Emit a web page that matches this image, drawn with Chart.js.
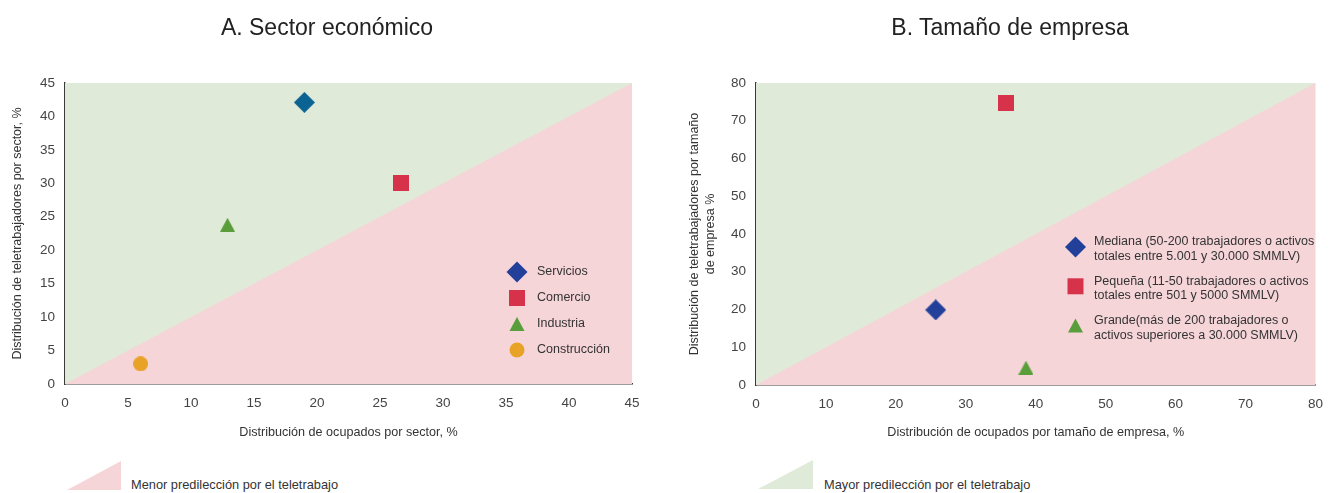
<!DOCTYPE html>
<html>
<head>
<meta charset="utf-8">
<script src="https://cdn.jsdelivr.net/npm/chart.js@4.4.0/dist/chart.umd.min.js"></script>
<style>
  body { margin: 0; background: #fff; font-family: "Liberation Sans", Arial, sans-serif; }
  #wrap { position: relative; width: 1334px; height: 493px; overflow: hidden; }
  .panel { position: absolute; top: 0; width: 667px; height: 455px; }
  .title { position: absolute; top: 16px; font-size: 23px; line-height: 23px; color: #222; white-space: nowrap; transform: translateX(-50%); }
  .tri { position: absolute; clip-path: polygon(0 100%, 100% 0, 100% 100%); }
  .keytext { position: absolute; font-size: 12.8px; line-height: 14px; color: #333; white-space: nowrap; }
</style>
</head>
<body>
<div id="wrap">
  <div class="panel" style="left:0"><canvas id="sectorChart" width="667" height="455"></canvas></div>
  <div class="panel" style="left:667px"><canvas id="sizeChart" width="667" height="455"></canvas></div>
  <div class="title" style="left:327px">A. Sector económico</div>
  <div class="title" style="left:1010px">B. Tamaño de empresa</div>
  <div class="tri" style="left:67px;top:461px;width:54px;height:29px;background:#f6d5d9"></div>
  <div class="keytext" style="left:131px;top:478px">Menor predilección por el teletrabajo</div>
  <div class="tri" style="left:758px;top:460px;width:55px;height:29px;background:#dfead8"></div>
  <div class="keytext" style="left:824px;top:478px">Mayor predilección por el teletrabajo</div>
</div>
<script>
// --- data ---
const sectorNames = ['Servicios', 'Comercio', 'Industria', 'Construcción'];
const sectorOcupados = [19.0, 26.7, 12.9, 6.0];
const sectorTeletrabajo = [42.1, 30.0, 23.8, 3.0];
const sectorMax = 45;
const sectorStep = 5;

const sizeNames = [
  ['Mediana (50-200 trabajadores o activos', 'totales entre 5.001 y 30.000 SMMLV)'],
  ['Pequeña (11-50 trabajadores o activos', 'totales entre 501 y 5000 SMMLV)'],
  ['Grande(más de 200 trabajadores o', 'activos superiores a 30.000 SMMLV)']
];
const sizeOcupados = [25.7, 35.8, 38.6];
const sizeTeletrabajo = [19.9, 74.7, 4.6];
const sizeMax = 80;
const sizeStep = 10;

// marker look per series
const sectorShapes = ['diamond', 'square', 'triangle', 'circle'];
const sectorPointColors = ['#0b6393', '#d6334b', '#5a9e3b', '#e8a226'];
const sectorKeyColors = ['#22409a', '#d6334b', '#5a9e3b', '#e8a226'];
const sizeShapes = ['diamond', 'square', 'triangle'];
const sizeColors = ['#22409a', '#d6334b', '#5a9e3b'];

const GREEN_BG = '#dfead8';
const PINK_BG = '#f6d5d9';
const AXIS_COLOR = '#3a3a3a';
const TICK_COLOR = '#444';
const FONT = '"Liberation Sans", Arial, sans-serif';

const shapeSize = {
  diamond: [21, 21],
  square: [16, 16],
  triangle: [15, 14],
  circle: [15, 15]
};

function drawShape(g, shape, color, cx, cy) {
  const [w, h] = shapeSize[shape];
  g.fillStyle = color;
  g.beginPath();
  if (shape === 'diamond') {
    g.moveTo(cx, cy - h / 2);
    g.lineTo(cx + w / 2, cy);
    g.lineTo(cx, cy + h / 2);
    g.lineTo(cx - w / 2, cy);
  } else if (shape === 'square') {
    g.rect(cx - w / 2, cy - h / 2, w, h);
  } else if (shape === 'triangle') {
    g.moveTo(cx, cy - h / 2);
    g.lineTo(cx + w / 2, cy + h / 2);
    g.lineTo(cx - w / 2, cy + h / 2);
  } else {
    g.ellipse(cx, cy, w / 2, h / 2, 0, 0, Math.PI * 2);
  }
  g.closePath();
  g.fill();
}

// point style images so the markers match the reference shapes
function markerImage(shape, color) {
  const [w, h] = shapeSize[shape];
  const c = document.createElement('canvas');
  c.width = w;
  c.height = h;
  drawShape(c.getContext('2d'), shape, color, w / 2, h / 2);
  return c;
}

// pink behind the whole plot area, green triangle is a filled dataset on top
const plotBackground = {
  id: 'plotBackground',
  beforeDatasetsDraw(chart) {
    const { ctx, chartArea } = chart;
    ctx.save();
    ctx.fillStyle = PINK_BG;
    ctx.fillRect(chartArea.left, chartArea.top, chartArea.right - chartArea.left, chartArea.bottom - chartArea.top);
    ctx.restore();
  }
};

// legend drawn inside the plot area
const insideLegend = {
  id: 'insideLegend',
  afterDatasetsDraw(chart, args, opts) {
    if (!opts.items) return;
    const ctx = chart.ctx;
    ctx.save();
    ctx.font = '12.5px ' + FONT;
    ctx.textBaseline = 'middle';
    opts.items.forEach((it, i) => {
      const y = opts.y + i * opts.gap;
      drawShape(ctx, it.shape, it.color, opts.markerX, y + opts.markerDy);
      ctx.fillStyle = '#333';
      it.lines.forEach((line, j) => ctx.fillText(line, opts.textX, y + j * opts.lineH));
    });
    ctx.restore();
  }
};

function buildChart(canvasId, cfg) {
  const datasets = cfg.names.map((name, i) => ({
    label: Array.isArray(name) ? name.join(' ') : name,
    data: [{ x: cfg.xs[i], y: cfg.ys[i] }],
    pointStyle: markerImage(cfg.shapes[i], cfg.pointColors[i]),
    pointRadius: 10,
    pointHoverRadius: 10
  }));
  // diagonal y = x, filled above it
  datasets.push({
    label: 'diagonal',
    data: [{ x: 0, y: 0 }, { x: cfg.max, y: cfg.max }],
    showLine: true,
    fill: 'end',
    backgroundColor: GREEN_BG,
    borderColor: 'rgba(0,0,0,0)',
    borderWidth: 0,
    pointRadius: 0,
    pointHoverRadius: 0
  });

  return new Chart(document.getElementById(canvasId), {
    type: 'scatter',
    data: { datasets },
    plugins: [plotBackground, insideLegend],
    options: {
      responsive: false,
      animation: false,
      events: [],
      layout: { padding: cfg.padding },
      plugins: {
        legend: { display: false },
        title: { display: false },
        tooltip: { enabled: false },
        insideLegend: cfg.legend
      },
      scales: {
        x: {
          type: 'linear',
          min: 0,
          max: cfg.max,
          afterFit: (s) => { s.height = cfg.xAxisHeight; },
          grid: { display: false, drawTicks: false },
          border: { display: true, color: AXIS_COLOR, width: 1.5 },
          ticks: { stepSize: cfg.step, padding: 11, color: TICK_COLOR, font: { family: FONT, size: 13.5 } },
          title: {
            display: true,
            text: cfg.xTitle,
            color: '#333',
            font: { family: FONT, size: 12.6 },
            padding: { top: 0, bottom: 15 }
          }
        },
        y: {
          type: 'linear',
          min: 0,
          max: cfg.max,
          afterFit: (s) => { s.width = cfg.yAxisWidth; },
          grid: { display: false, drawTicks: false },
          border: { display: true, color: AXIS_COLOR, width: 1.5 },
          ticks: { stepSize: cfg.step, padding: 10, color: TICK_COLOR, font: { family: FONT, size: 13.5 } },
          title: {
            display: true,
            text: cfg.yTitle,
            color: '#333',
            font: { family: FONT, size: 12.5, lineHeight: cfg.yTitleLineHeight },
            padding: { top: cfg.yTitlePad, bottom: 0 }
          }
        }
      }
    }
  });
}

buildChart('sectorChart', {
  names: sectorNames,
  xs: sectorOcupados,
  ys: sectorTeletrabajo,
  shapes: sectorShapes,
  pointColors: sectorPointColors,
  max: sectorMax,
  step: sectorStep,
  padding: { left: 0, top: 83, right: 35, bottom: 0 },
  xAxisHeight: 71,
  yAxisWidth: 65,
  xTitle: 'Distribución de ocupados por sector, %',
  yTitle: 'Distribución de teletrabajadores por sector, %',
  yTitleLineHeight: 1.2,
  yTitlePad: 10,
  legend: {
    items: sectorNames.map((n, i) => ({ shape: sectorShapes[i], color: sectorKeyColors[i], lines: [n] })),
    markerX: 517,
    textX: 537,
    y: 272,
    gap: 26,
    lineH: 14,
    markerDy: 0
  }
});

buildChart('sizeChart', {
  names: sizeNames,
  xs: sizeOcupados,
  ys: sizeTeletrabajo,
  shapes: sizeShapes,
  pointColors: sizeColors,
  max: sizeMax,
  step: sizeStep,
  padding: { left: 0, top: 83, right: 12, bottom: 0 },
  xAxisHeight: 70,
  yAxisWidth: 89,
  xTitle: 'Distribución de ocupados por tamaño de empresa, %',
  yTitle: ['Distribución de teletrabajadores por tamaño', 'de empresa %'],
  yTitleLineHeight: 16 / 12.5,
  yTitlePad: 20,
  legend: {
    items: sizeNames.map((n, i) => ({ shape: sizeShapes[i], color: sizeColors[i], lines: n })),
    markerX: 408.5,
    textX: 427,
    y: 242,
    gap: 39.3,
    lineH: 14.5,
    markerDy: 5
  }
});
</script>
</body>
</html>
